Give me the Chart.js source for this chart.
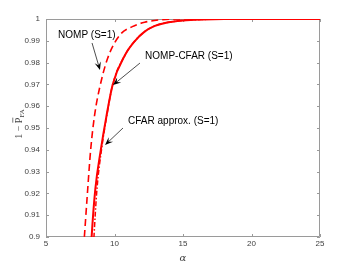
<!DOCTYPE html>
<html><head><meta charset="utf-8">
<script src="https://cdn.jsdelivr.net/npm/chart.js@4/dist/chart.umd.min.js"></script>
<style>html,body{margin:0;padding:0;background:#fff}</style>
</head><body>
<canvas id="c" width="354" height="266"></canvas>
<script>
// ---- data ----
const nompAlpha  = [7.68, 7.8, 8.0, 8.26, 8.55, 8.9, 9.5, 10.4, 11.3, 12.2, 13.5, 14.5, 25];
const nompValues = [0.89, 0.9, 0.918, 0.94, 0.956, 0.968, 0.982, 0.9927, 0.9965, 0.9985, 0.9997, 1.0, 1.0];

const cfarAlpha  = [8.25, 8.33, 8.6, 9.0, 9.4, 9.87, 10.77, 11.5, 12.2, 12.9, 13.7, 15.0, 16.5, 18.0, 25];
const cfarValues = [0.89, 0.9, 0.922, 0.94, 0.955, 0.97, 0.9835, 0.99, 0.9942, 0.9967, 0.9982, 0.9993, 0.9998, 1.0, 1.0];

const approxAlpha  = [8.42, 8.5, 8.72, 9.05, 9.42, 9.87, 10.77, 11.5, 12.2, 12.9, 13.7, 15.0, 16.5, 18.0, 25];
const approxValues = [0.89, 0.9, 0.922, 0.94, 0.955, 0.97, 0.9835, 0.99, 0.9942, 0.9967, 0.9982, 0.9993, 0.9998, 1.0, 1.0];

const xTickLabels = ["5", "10", "15", "20", "25"];
const yTickLabels = ["0.9","0.91","0.92","0.93","0.94","0.95","0.96","0.97","0.98","0.99","1"];

// annotations in data coordinates: [text, textAlpha, textValue, tailAlpha, tailValue, headAlpha, headValue]
const annotations = [
  ["NOMP (S=1)",          5.88, 0.9927,  8.36, 0.989,  8.94, 0.9766],
  ["NOMP-CFAR (S=1)",    12.23, 0.983,  11.86, 0.9798, 9.89, 0.9697],
  ["CFAR approx. (S=1)", 10.99, 0.9532, 10.62, 0.950,  9.31, 0.9422]
];

const toPts = (xs, ys) => xs.map((x, i) => ({x, y: ys[i]}));

const frame = {
  id: 'frame',
  beforeDatasetsDraw(chart) {
    const {ctx, chartArea: a, scales: {x, y}} = chart;
    ctx.save();
    ctx.strokeStyle = '#9a9a9a';
    ctx.lineWidth = 1;
    ctx.beginPath();
    ctx.rect(a.left + 0.5, a.top + 0.5, a.right - a.left - 1, a.bottom - a.top - 1);
    ctx.stroke();
    ctx.beginPath();
    x.ticks.forEach(t => {
      const px = Math.round(x.getPixelForValue(t.value)) + 0.5;
      ctx.moveTo(px, a.bottom); ctx.lineTo(px, a.bottom - 3);
      ctx.moveTo(px, a.top); ctx.lineTo(px, a.top + 3);
    });
    y.ticks.forEach(t => {
      const py = Math.round(y.getPixelForValue(t.value)) + 0.5;
      ctx.moveTo(a.left, py); ctx.lineTo(a.left + 3, py);
      ctx.moveTo(a.right, py); ctx.lineTo(a.right - 3, py);
    });
    ctx.stroke();
    ctx.restore();
  },
  afterDraw(chart) {
    const {ctx, chartArea: a, scales: {x, y}} = chart;
    ctx.save();
    // annotations
    ctx.fillStyle = '#000';
    ctx.strokeStyle = '#000';
    ctx.font = '10px "Liberation Sans", Arial, sans-serif';
    ctx.textBaseline = 'middle';
    ctx.textAlign = 'left';
    annotations.forEach(([txt, tx, ty, sx, sy, hx, hy]) => {
      ctx.fillText(txt, x.getPixelForValue(tx), y.getPixelForValue(ty));
      const x0 = x.getPixelForValue(sx), y0 = y.getPixelForValue(sy);
      const x1 = x.getPixelForValue(hx), y1 = y.getPixelForValue(hy);
      const ang = Math.atan2(y1 - y0, x1 - x0);
      const L = 8, W = 3.2;
      ctx.lineWidth = 0.7;
      ctx.beginPath();
      ctx.moveTo(x0, y0);
      ctx.lineTo(x1 - Math.cos(ang) * 4, y1 - Math.sin(ang) * 4);
      ctx.stroke();
      const bx = x1 - Math.cos(ang) * L, by = y1 - Math.sin(ang) * L;
      const mx = x1 - Math.cos(ang) * L * 0.6, my = y1 - Math.sin(ang) * L * 0.6;
      ctx.beginPath();
      ctx.moveTo(x1, y1);
      ctx.lineTo(bx - Math.sin(ang) * W, by + Math.cos(ang) * W);
      ctx.lineTo(mx, my);
      ctx.lineTo(bx + Math.sin(ang) * W, by - Math.cos(ang) * W);
      ctx.closePath();
      ctx.fill();
    });
    // axis titles
    ctx.fillStyle = '#404040';
    ctx.textAlign = 'center';
    ctx.font = 'italic 10px "DejaVu Serif", "Liberation Serif", serif';
    ctx.fillText('α', (a.left + a.right) / 2, 258);
    // y title: 1 − P̄_FA rotated
    ctx.translate(19, (a.top + a.bottom) / 2 - 4);
    ctx.rotate(-Math.PI / 2);
    const p1 = '1 − ', p2 = 'P';
    ctx.font = '10px "Liberation Serif", serif';
    const w1 = ctx.measureText(p1).width, w2 = ctx.measureText(p2).width;
    ctx.font = '7px "Liberation Serif", serif';
    const w3 = ctx.measureText('FA').width;
    const total = w1 + w2 + w3;
    let cx = -total / 2;
    ctx.textAlign = 'left';
    ctx.font = '10px "Liberation Serif", serif';
    ctx.fillText(p1, cx, 0); cx += w1;
    ctx.fillText(p2, cx, 0);
    ctx.fillRect(cx + 0.5, -6.5, w2 - 0.5, 0.7);
    cx += w2;
    ctx.font = '7px "Liberation Serif", serif';
    ctx.fillText('FA', cx, 3);
    ctx.restore();
  }
};

new Chart(document.getElementById('c'), {
  type: 'line',
  data: {
    datasets: [
      {label: 'NOMP (S=1)', data: toPts(nompAlpha, nompValues), borderColor: '#ff0000', borderWidth: 1.6, borderDash: [7, 4], pointRadius: 0, cubicInterpolationMode: 'monotone', fill: false},
      {label: 'NOMP-CFAR (S=1)', data: toPts(cfarAlpha, cfarValues), borderColor: '#ff0000', borderWidth: 2, pointRadius: 0, cubicInterpolationMode: 'monotone', fill: false},
      {label: 'CFAR approx. (S=1)', data: toPts(approxAlpha, approxValues), borderColor: '#ff0000', borderWidth: 1.5, borderDash: [5, 2, 1.5, 2], pointRadius: 0, cubicInterpolationMode: 'monotone', fill: false}
    ]
  },
  options: {
    responsive: false,
    animation: false,
    layout: {padding: {top: 19, right: 34, left: 0, bottom: 0}},
    plugins: {legend: {display: false}, tooltip: {enabled: false}},
    scales: {
      x: {
        type: 'linear', min: 5, max: 25,
        grid: {display: false, tickLength: 0}, border: {display: false},
        ticks: {stepSize: 5, padding: 2, color: '#404040', font: {size: 8, family: '"Liberation Sans", Arial, sans-serif'},
          maxRotation: 0, callback: (v, i) => xTickLabels[i]},
        afterFit: s => { s.height = 29; }
      },
      y: {
        type: 'linear', min: 0.9, max: 1,
        grid: {display: false, tickLength: 0}, border: {display: false},
        ticks: {stepSize: 0.01, padding: 6, color: '#404040', font: {size: 8, family: '"Liberation Sans", Arial, sans-serif'},
          callback: (v, i) => yTickLabels[i]},
        afterFit: s => { s.width = 46; }
      }
    }
  },
  plugins: [frame]
});
</script>
</body></html>
